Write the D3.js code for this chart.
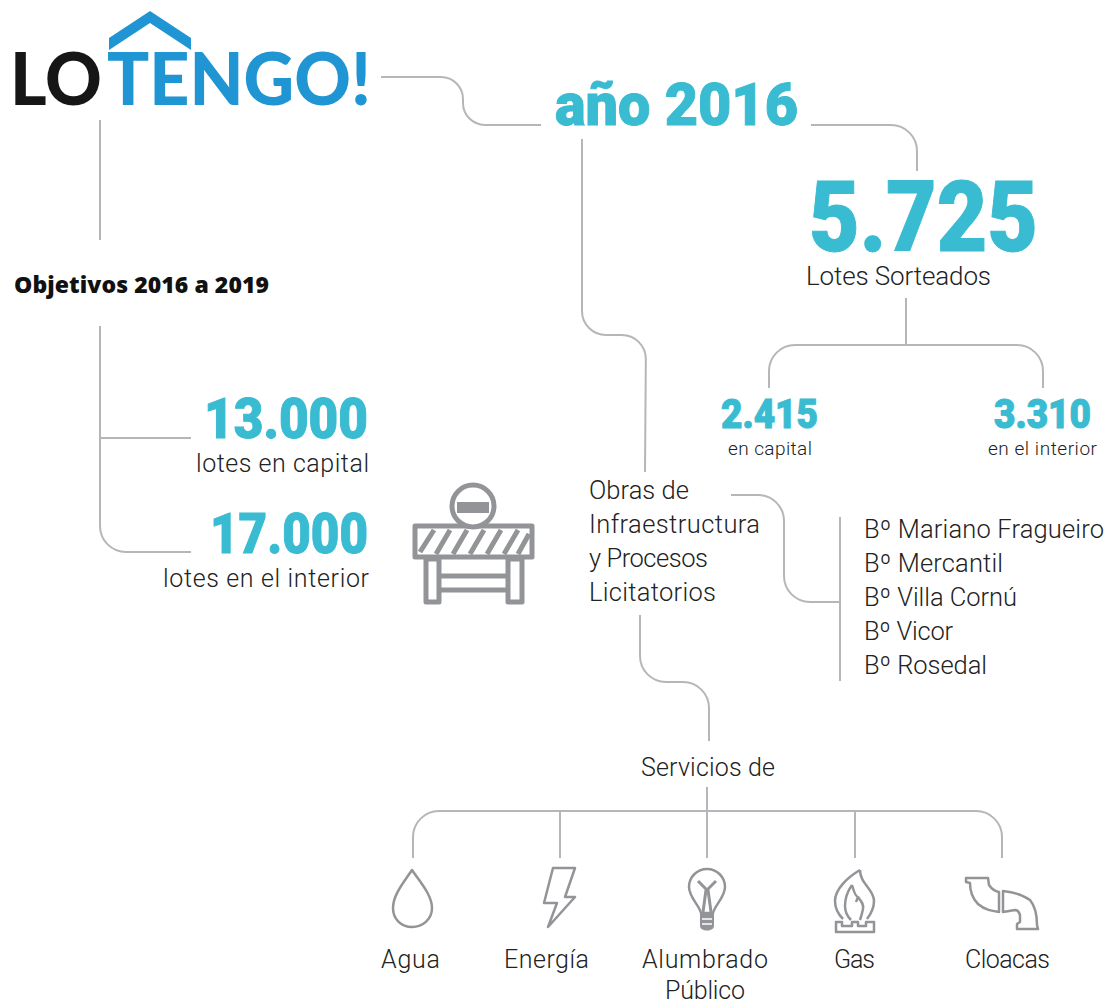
<!DOCTYPE html>
<html>
  <head>
    <meta charset="utf-8" />
    <script src="https://d3js.org/d3.v7.min.js"></script>
    <style>
      body,
      html {
        margin: 0;
        padding: 0;
        background: white;
      }
      text {
        font-family: "Roboto", sans-serif;
        font-weight: 300;
        fill: #222;
      }
      .big {
        font-family: "Roboto", sans-serif;
        font-weight: 900;
        fill: #39bbd1;
        stroke: #39bbd1;
        stroke-width: 1;
      }
      .line {
        fill: none;
        stroke: #b5b6b9;
        stroke-width: 2;
      }
      .icon {
        fill: none;
        stroke: #929497;
        stroke-width: 2.5;
        stroke-linejoin: round;
      }
    </style>
  </head>
  <body>
    <svg id="chart" width="1106" height="1005"></svg>
    <script>
      const logoLabels = ["LO", "TENGO!"];
      const yearLabel = "año 2016";
      const goalTitle = "Objetivos 2016 a 2019";
      const goalValues = ["13.000", "17.000"];
      const goalLabels = ["lotes en capital", "lotes en el interior"];
      const drawnTotal = "5.725";
      const drawnLabel = "Lotes Sorteados";
      const drawnValues = ["2.415", "3.310"];
      const drawnLabels = ["en capital", "en el interior"];
      const worksLabels = ["Obras de", "Infraestructura", "y Procesos", "Licitatorios"];
      const barrios = ["Bº Mariano Fragueiro", "Bº Mercantil", "Bº Villa Cornú", "Bº Vicor", "Bº Rosedal"];
      const servicesTitle = "Servicios de";
      const services = ["Agua", "Energía", "Alumbrado", "Gas", "Cloacas"];
      const servicesLine2 = "Público";

      const svg = d3.select("#chart");

      const addText = (str, x, y, size, anchor, cls) =>
        svg
          .append("text")
          .attr("class", cls || null)
          .attr("x", x)
          .attr("y", y)
          .attr("text-anchor", anchor || "start")
          .style("font-size", size + "px")
          .text(str);

      // polyline with rounded corners
      const connector = (pts, r) => {
        const p = d3.path();
        p.moveTo(pts[0][0], pts[0][1]);
        for (let i = 1; i < pts.length - 1; i++) {
          p.arcTo(pts[i][0], pts[i][1], pts[i + 1][0], pts[i + 1][1], r);
        }
        p.lineTo(pts[pts.length - 1][0], pts[pts.length - 1][1]);
        svg.append("path").attr("class", "line").attr("d", p.toString());
      };

      // connectors
      connector([[381, 77], [463, 77], [463, 125], [541, 125]], 22);
      connector([[811, 125], [917, 125], [917, 171]], 26);
      connector([[100, 120], [100, 240]], 0);
      connector([[100, 326], [100, 552], [191, 552]], 26);
      connector([[100, 438], [191, 438]], 0);
      connector([[582, 139], [582, 335], [646, 335], [645, 472]], 24);
      connector([[906, 298], [906, 345]], 0);
      connector([[769, 388], [769, 345], [1043, 345], [1043, 388]], 26);
      connector([[731, 495], [784, 495], [784, 602], [840, 602]], 26);
      connector([[840, 517], [840, 681]], 0);
      connector([[640, 615], [640, 682], [709, 682], [709, 741]], 26);
      connector([[707, 787], [707, 858]], 0);
      connector([[413, 858], [413, 811], [1002, 811], [1002, 858]], 26);
      connector([[560, 811], [560, 858]], 0);
      connector([[855, 811], [855, 858]], 0);

      // logo
      svg.append("path").attr("fill", "#2095d4").attr("d", "M109 50V38L150 11L191 38V50L150 23Z");
      addText(logoLabels[0], 10, 105, 73)
        .attr("textLength", 92)
        .attr("lengthAdjust", "spacingAndGlyphs")
        .style("font-family", "Lato")
        .style("font-weight", 900)
        .style("fill", "#161616");
      addText(logoLabels[1], 107, 105, 73)
        .attr("textLength", 264)
        .attr("lengthAdjust", "spacingAndGlyphs")
        .style("font-family", "Lato")
        .style("font-weight", 900)
        .style("fill", "#2095d4");

      // year and total
      addText(yearLabel, 555, 125, 60, "start", "big")
        .attr("textLength", 243)
        .attr("lengthAdjust", "spacingAndGlyphs");
      addText(drawnTotal, 809, 251, 98, "start", "big")
        .attr("textLength", 229)
        .attr("lengthAdjust", "spacingAndGlyphs");
      addText(drawnLabel, 806, 285, 26).attr("textLength", 185);
      drawnValues.forEach((v, i) => {
        const cx = [769, 1042][i];
        addText(v, cx - 48, 428, 40, "start", "big")
          .attr("textLength", 97)
          .attr("lengthAdjust", "spacingAndGlyphs");
        addText(drawnLabels[i], [728, 988][i], 455, 19).attr("textLength", [84, 109][i]);
      });

      // goals
      addText(goalTitle, 14, 293, 23)
        .attr("textLength", 255)
        .style("font-family", "Open Sans")
        .style("font-weight", 800)
        .style("fill", "#111");
      goalValues.forEach((v, i) => {
        addText(v, [204, 210][i], [438, 553][i], 55, "start", "big")
          .attr("textLength", [164, 158][i])
          .attr("lengthAdjust", "spacingAndGlyphs");
        addText(goalLabels[i], [196, 163][i], [472, 587][i], 25).attr("textLength", [173, 206][i]);
      });

      // works block
      worksLabels.forEach((s, i) => {
        addText(s, 589, 499 + i * 34, 25.5).attr("textLength", [100, 171, 119, 127][i]);
      });
      barrios.forEach((s, i) => {
        addText(s, 864, 538 + i * 33.9, 25.5).attr("textLength", [240, 139, 153, 89, 123][i]);
      });

      // services
      addText(servicesTitle, 641, 776, 25).attr("textLength", 134);
      services.forEach((s, i) => {
        addText(s, [381, 504, 642, 834, 965][i], 968, 25).attr("textLength", [59, 85, 126, 41, 85][i]);
      });
      addText(servicesLine2, 665, 999, 25).attr("textLength", 80);

      // icons
      const icon = (d) => svg.append("path").attr("class", "icon").attr("d", d);

      // barrier
      icon("M415 526H532V557H415Z").style("stroke-width", 5);
      svg.append("circle").attr("cx", 473).attr("cy", 506).attr("r", 21)
        .attr("fill", "white").attr("stroke", "#929497").attr("stroke-width", 5);
      svg.append("rect").attr("x", 457).attr("y", 502).attr("width", 32).attr("height", 11).attr("fill", "#929497");
      icon("M420 552L434 530M436 554L450 530M453 554L467 530M470 554L484 530M487 554L501 530M504 554L518 530M518 554L529 534")
        .style("stroke-width", 5);
      icon("M426 559H439V602H426ZM508 559H522V602H508ZM441 576H506M441 590H506").style("stroke-width", 5);

      // water drop
      icon("M412 870C404 882 393 895 393 908C393 919 401 927 412 927C423 927 432 919 432 908C432 895 420 882 412 870Z");
      // bolt
      icon("M553 868H575L565 897H575L548 927L557 903H544Z");
      // bulb
      icon("M707 869C697 869 689 877 689 887C689 897 699 905 701 913H713C715 905 725 897 725 887C725 877 717 869 707 869Z");
      icon("M698 881L707 890L716 881M703 912L706 890M711 912L708 890").style("stroke-width", 3);
      svg.append("path").attr("fill", "#929497")
        .attr("d", "M700 914H714V926C714 932 700 932 700 926Z");
      icon("M702 919H712M702 924H712").style("stroke", "white").style("stroke-width", 1.5);
      // flame
      icon("M860 870C848 877 835 889 835 901C835 910 839 915 843 919M860 870C860 884 874 889 874 901C874 910 870 915 867 919");
      icon("M852 885C847 892 845 900 845 906C845 912 848 917 851 920M852 885C854 892 856 897 858 897C861 901 864 904 863 909C862 914 861 917 860 920M858 897L856 902");
      icon("M836 922H842V926H852V922H858V926H866V922H874V932H836Z");
      // pipes
      icon("M966 878H988L989 885C991 888 994 891 999 892V912C992 911 985 910 978 904C973 899 970 892 970 883L966 882Z");
      icon("M1003 891C1012 892 1022 894 1030 900C1035 906 1037 915 1037 925L1038 929H1017V924L1020 922V915C1019 912 1018 910 1015 910L1003 912Z");
    </script>
  </body>
</html>
